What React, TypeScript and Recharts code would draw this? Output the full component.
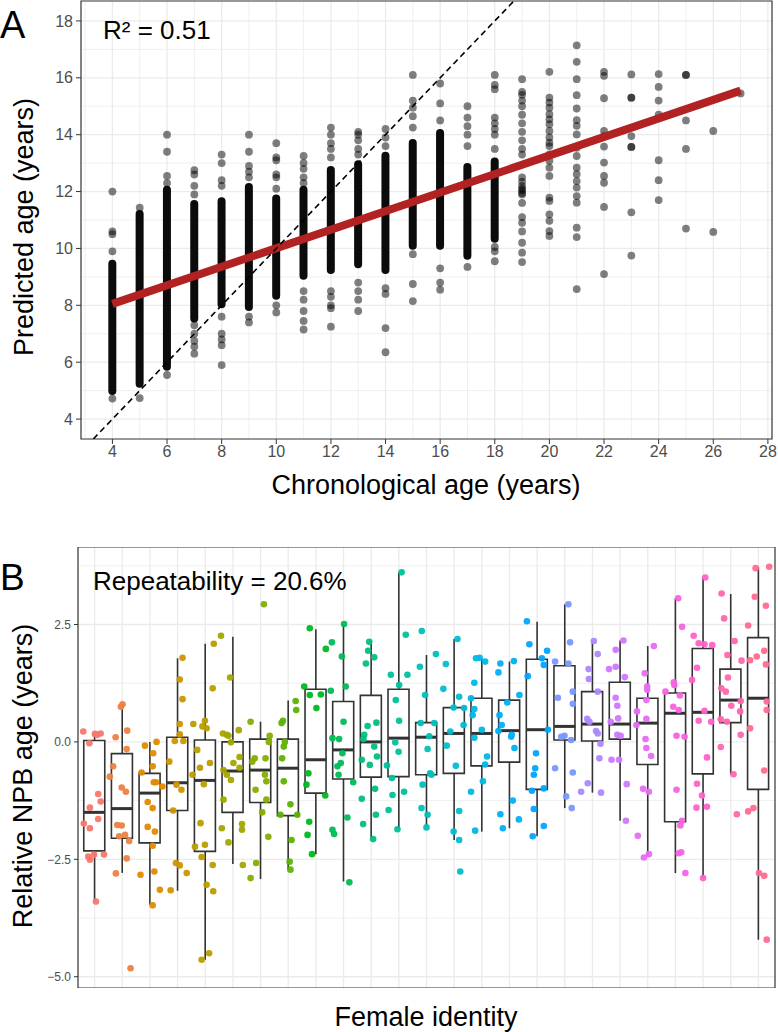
import React from "react";
import {
  ComposedChart, Bar, Scatter, XAxis, YAxis, CartesianGrid, ReferenceArea,
} from "recharts";

const FONT = '"Liberation Sans", Arial, Helvetica, sans-serif';
const GRID = "#EBEBEB";
const INK = "#333333";
const TICK_TEXT = "#4D4D4D";

// ---------- Panel A: predicted vs chronological age ----------
const AGES = [4, 5, 6, 7, 8, 9, 10, 11, 12, 13, 14, 15, 16, 17, 18, 19, 20, 21, 22, 23, 24, 25, 26, 27];

// solid stretch of overlapping samples in each age column (null = no dense stretch)
const CORE_LOW = [4.85, 5.1, 5.7, 7.4, 7.9, 7.8, 8.2, 8.9, 9.1, 9.3, 9.1, 9.95, 9.95, 9.6, 10.2, null, null, null, null, null, null, null, null, null];
const CORE_HIGH = [9.6, 11.35, 12.2, 11.7, 11.8, 12.3, 11.9, 12.2, 12.9, 13.1, 13.4, 13.85, 14.2, 13.0, 13.2, null, null, null, null, null, null, null, null, null];

// individual samples outside the dense stretch
const SPARSE: number[][] = [
  [12.0, 10.6, 10.5, 9.9, 4.72],
  [11.43, 4.74],
  [14.0, 13.4, 12.55, 12.3, 5.55],
  [12.75, 12.6, 12.2, 11.9, 7.3, 7.0, 6.75, 6.55, 6.3],
  [13.3, 13.0, 12.4, 12.2, 7.6, 7.0, 6.8, 6.6, 5.9],
  [14.0, 13.4, 12.9, 12.7, 12.5, 7.6, 7.4],
  [13.7, 13.2, 13.1, 12.6, 12.5, 12.1, 8.0, 7.75],
  [13.25, 13.0, 12.8, 12.5, 12.3, 8.5, 8.2, 7.8, 7.45, 7.15],
  [14.25, 14.0, 13.7, 13.5, 13.2, 8.5, 8.3, 8.0, 7.9, 7.25],
  [14.1, 14.0, 13.8, 13.5, 13.3, 8.8, 8.5, 8.2, 7.8],
  [14.2, 13.9, 13.6, 8.6, 8.4, 7.2, 6.35],
  [16.1, 15.2, 14.95, 14.65, 14.25, 9.8, 8.75, 8.15],
  [15.8, 15.1, 14.5, 9.3, 8.8, 8.55],
  [15.0, 14.6, 14.3, 14.0, 13.6, 9.35],
  [16.1, 15.75, 15.6, 14.6, 14.4, 14.2, 14.0, 13.5, 10.05, 9.9, 9.55],
  [15.95, 15.5, 15.4, 15.2, 15.0, 14.7, 14.4, 14.1, 13.8, 13.5, 13.3, 12.5, 12.35, 12.2, 12.1, 12.05, 11.95, 11.9, 11.6, 11.1, 10.9, 10.6, 10.2, 9.85, 9.52],
  [16.21, 15.3, 15.13, 14.95, 14.72, 14.54, 14.37, 14.13, 13.9, 13.72, 13.6, 13.31, 13.08, 12.84, 12.55, 11.79, 11.67, 11.2, 10.97, 10.61, 10.44],
  [17.14, 16.56, 15.95, 15.39, 14.92, 14.51, 14.31, 14.01, 13.54, 13.25, 12.84, 12.61, 12.37, 12.14, 11.84, 11.61, 10.73, 10.4, 8.57],
  [16.21, 16.07, 15.28, 14.13, 13.95, 13.58, 13.02, 12.55, 12.31, 11.46, 9.1],
  [16.12, 15.3, 15.3, 13.95, 13.57, 13.57, 11.27, 9.75],
  [16.13, 15.68, 15.2, 14.7, 13.1, 12.4, 11.7],
  [16.1, 16.1, 14.5, 13.5, 10.7],
  [14.13, 10.58],
  [15.45],
];

const FIT_AGE = [4, 27];
const FIT_PRED = [8.05, 15.55];
const IDENTITY = [3.3, 18.7];

const A_X_TICKS = [4, 6, 8, 10, 12, 14, 16, 18, 20, 22, 24, 26, 28];
const A_X_MINOR = [3, 5, 7, 9, 11, 13, 15, 17, 19, 21, 23, 25, 27];
const A_Y_TICKS = [4, 6, 8, 10, 12, 14, 16, 18];
const A_Y_MINOR = [5, 7, 9, 11, 13, 15, 17];

// ---------- Panel B: relative NPB age per female ----------
const WHISKER_LOW = [-3.40, -2.79, -3.47, -3.17, -4.64, -2.60, -2.92, -2.72, -2.39, -2.97, -2.06, -1.86, -1.80, -2.09, -1.91, -1.84, -2.01, -1.41, -1.08, -1.68, -2.44, -2.79, -2.89, -0.69, -4.21];
const Q1 = [-2.32, -2.05, -2.15, -1.46, -2.33, -1.50, -1.29, -1.57, -1.09, -0.79, -0.75, -0.74, -0.70, -0.67, -0.51, -0.43, -1.01, 0.04, 0.02, 0.06, -0.48, -1.70, -0.68, 0.41, -1.01];
const MEDIAN = [-1.50, -1.42, -1.09, -0.87, -0.82, -0.62, -0.60, -0.56, -0.38, -0.17, 0.0, 0.08, 0.10, 0.18, 0.18, 0.24, 0.26, 0.33, 0.38, 0.38, 0.40, 0.61, 0.63, 0.89, 0.93];
const Q3 = [0.03, -0.25, -0.67, 0.10, 0.04, 0.0, 0.06, 0.06, 1.12, 0.86, 0.99, 1.12, 0.41, 0.73, 0.93, 0.89, 1.76, 1.62, 1.07, 1.27, 0.93, 1.04, 1.99, 1.55, 2.22];
const WHISKER_HIGH = [0.18, 0.79, 0.0, 1.78, 2.09, 2.24, 0.43, 0.88, 2.40, 2.51, 2.16, 3.61, 1.85, 2.19, 1.78, 1.71, 2.56, 2.93, 2.13, 2.16, 2.04, 3.06, 3.50, 3.15, 3.72];

// [horizontal jitter, relative age] for each observation, one list per female
const NPB_POINTS: [number, number][][] = [
  [[-0.41, 0.22], [-0.19, -0.03], [0.01, 0.17], [0.10, 0.15], [0.22, 0.18], [0.13, -1.11], [0.22, -1.27], [-0.17, -1.40], [-0.39, -1.74], [-0.17, -1.84], [0.13, -1.64], [-0.23, -2.44], [-0.17, -2.51], [-0.02, -2.40], [0.34, -2.40], [0.05, -3.40]],
  [[0.01, 0.80], [-0.05, 0.75], [0.18, 0.24], [-0.24, 0.10], [0.16, -0.15], [-0.33, -0.52], [-0.45, -0.74], [-0.02, -0.97], [0.13, -1.06], [-0.18, -1.77], [-0.02, -1.78], [0.10, -1.98], [0.25, -2.11], [-0.11, -2.01], [0.16, -2.48], [-0.23, -2.80], [0.30, -4.82]],
  [[0.24, 0.0], [-0.18, -0.08], [0.12, -0.24], [0.10, -0.52], [-0.30, -0.65], [0.14, -0.86], [0.22, -0.86], [0.45, -0.95], [-0.08, -1.28], [0.10, -1.41], [-0.08, -1.81], [0.18, -1.91], [0.10, -2.21], [0.16, -2.76], [-0.34, -2.83], [0.36, -3.15], [0.10, -3.48]],
  [[0.18, 1.79], [0.08, 1.33], [0.18, 0.91], [0.08, 0.38], [0.08, 0.16], [0.21, 0.02], [-0.10, 0.02], [-0.30, -0.42], [-0.04, -0.91], [0.14, -1.02], [-0.16, -1.46], [-0.06, -2.58], [0.08, -2.63], [0.33, -2.79], [-0.25, -3.16]],
  [[0.31, 2.09], [0.27, 1.14], [-0.01, 0.45], [-0.10, 0.33], [0.05, 0.29], [-0.43, 0.38], [-0.29, -0.17], [0.17, -0.45], [-0.19, -0.55], [-0.46, -0.70], [-0.05, -0.90], [-0.17, -1.73], [-0.37, -2.23], [-0.01, -2.19], [-0.13, -2.45], [0.27, -2.62], [0.05, -3.04], [0.29, -3.18], [-0.13, -4.64], [0.14, -4.50]],
  [[-0.43, 2.26], [-0.10, 1.37], [-0.36, 0.18], [-0.22, 0.15], [0.21, 0.25], [-0.16, 0.13], [-0.07, -0.01], [0.24, -0.32], [0.02, -0.45], [-0.34, -0.60], [-0.22, -0.70], [-0.07, -0.81], [0.24, -0.55], [-0.34, -1.23], [-0.40, -1.84], [-0.16, -2.14], [0.33, -1.75], [0.33, -1.87], [0.36, -2.62]],
  [[-0.36, 0.43], [0.33, 0.13], [-0.21, -0.35], [-0.30, -0.42], [0.18, -0.35], [0.21, -0.84], [0.21, -1.23], [0.06, -1.50], [0.28, -2.02], [-0.16, -2.58], [-0.36, -2.90], [0.12, 2.93], [0.16, -0.70], [-0.18, -1.02], [0.30, 0.0]],
  [[0.27, 0.87], [0.29, 0.68], [-0.19, 0.45], [-0.24, 0.40], [-0.12, 0.0], [-0.16, -0.10], [-0.22, -0.35], [-0.16, -0.84], [0.08, -1.33], [-0.28, -1.55], [0.33, -1.55], [0.12, -2.09], [0.05, -2.55], [0.08, -2.72]],
  [[-0.22, 2.42], [0.36, 1.98], [-0.42, 1.18], [-0.22, 1.0], [0.18, 1.01], [0.02, 0.72], [-0.27, -0.67], [-0.34, -0.91], [0.34, -1.14], [-0.24, -1.70], [-0.30, -1.98], [-0.14, -2.39]],
  [[-0.42, 2.12], [-0.46, 1.09], [0.02, 2.51], [-0.06, 1.82], [0.08, 1.18], [0.0, 0.43], [-0.40, 0.08], [-0.16, 0.06], [-0.04, -0.24], [-0.10, -0.45], [-0.22, -0.52], [-0.18, -0.70], [0.35, -0.86], [0.14, -1.61], [-0.40, -1.87], [-0.34, -1.96], [0.21, -2.99]],
  [[-0.07, 2.13], [-0.11, 1.94], [0.11, 1.80], [-0.19, 1.67], [0.19, 0.41], [-0.13, 0.34], [-0.25, 0.15], [-0.28, 0.06], [0.11, -0.10], [0.21, -0.31], [-0.05, -0.49], [-0.34, -0.38], [0.14, -1.0], [-0.34, -1.21], [0.17, -1.55], [-0.29, -1.75], [0.07, -2.07]],
  [[0.10, 3.61], [0.25, 2.28], [-0.29, 1.43], [0.31, 1.43], [0.01, 1.21], [-0.11, 0.89], [0.01, 0.45], [-0.13, -0.01], [-0.01, -0.21], [-0.43, -0.50], [-0.25, -0.77], [-0.23, -1.13], [0.19, -1.06], [-0.37, -1.45], [-0.05, -1.86]],
  [[-0.17, 2.36], [0.34, 1.87], [-0.24, 1.60], [-0.05, 1.0], [-0.21, 0.40], [0.28, 0.40], [0.10, 0.12], [0.04, -0.15], [0.13, -0.67], [0.18, -0.70], [-0.14, -0.91], [-0.18, -1.41], [0.04, -1.55], [0.0, -1.82]],
  [[0.12, 2.19], [-0.30, 1.66], [-0.39, 1.13], [0.18, 0.96], [-0.02, 0.73], [0.36, 0.72], [-0.14, 0.22], [0.34, 0.36], [-0.27, -0.08], [0.06, -0.51], [0.18, -1.47], [-0.02, -1.91], [0.18, -2.09], [0.22, -2.76]],
  [[-0.21, 1.78], [-0.08, 1.79], [0.12, 1.71], [-0.27, 1.26], [-0.39, 0.93], [-0.27, 0.70], [-0.33, 0.57], [-0.27, 0.09], [0.0, 0.26], [0.19, -0.31], [0.12, -0.48], [0.04, -0.84], [-0.39, -1.06], [-0.24, -1.89]],
  [[-0.33, 1.67], [-0.40, 1.48], [0.16, 1.72], [0.36, 1.0], [-0.08, 0.84], [-0.36, 0.57], [-0.28, 0.36], [-0.40, 0.23], [0.06, 0.11], [0.08, 0.15], [0.18, -0.13], [0.12, -1.25], [-0.33, -1.54], [0.34, -1.65], [-0.24, -1.84]],
  [[-0.37, 2.57], [-0.28, 2.08], [0.17, 1.78], [0.36, 1.94], [-0.34, 1.40], [0.24, 1.64], [0.39, 0.26], [-0.04, -0.24], [-0.07, -0.56], [-0.12, -0.70], [-0.19, -1.04], [0.24, -0.99], [-0.12, -1.43], [0.24, -1.79], [-0.16, -2.01]],
  [[0.13, 2.93], [0.19, 2.12], [0.13, 1.67], [-0.35, 1.71], [-0.25, 0.94], [0.29, 1.07], [0.29, 0.81], [-0.01, 0.13], [-0.13, 0.11], [0.23, 0.04], [-0.35, -0.56], [0.29, -0.65], [0.05, -1.16], [0.25, -1.41]],
  [[0.05, 2.15], [0.19, 1.87], [-0.14, 1.55], [-0.13, 1.34], [0.19, 1.07], [-0.19, 0.49], [-0.11, 0.43], [0.13, 0.23], [0.19, 0.18], [0.29, -0.04], [0.25, -0.35], [-0.17, -0.88], [-0.41, -1.06], [0.31, -1.08]],
  [[0.12, 2.16], [-0.16, 1.96], [-0.40, 1.55], [-0.16, 1.60], [0.17, 1.38], [-0.16, 0.94], [-0.10, 0.77], [-0.07, 0.50], [-0.34, 0.43], [-0.10, 0.15], [0.02, 0.13], [-0.31, -0.38], [-0.04, -0.38], [0.24, -0.90], [0.21, -1.68]],
  [[0.22, 2.04], [-0.11, 1.46], [-0.02, 1.18], [-0.02, 1.11], [-0.05, 0.89], [-0.39, 0.65], [-0.05, 0.49], [-0.41, 0.36], [-0.08, 0.06], [-0.05, -0.13], [0.12, -0.30], [-0.17, -1.0], [0.04, -1.06], [-0.36, -2.0], [-0.14, -2.46], [0.04, -2.39]],
  [[0.10, 3.06], [0.24, 2.45], [-0.06, 1.27], [-0.04, 1.21], [-0.36, 1.07], [0.16, 0.99], [-0.08, 0.75], [0.12, 0.68], [0.33, 0.11], [0.04, 0.13], [0.04, -1.02], [0.24, -1.68], [0.18, -1.78], [0.12, -2.37], [0.21, -2.35], [0.36, -2.79]],
  [[0.08, 3.50], [-0.34, 2.26], [-0.16, 2.10], [0.05, 2.08], [0.33, 2.06], [-0.22, 1.58], [-0.40, 1.32], [-0.16, 0.45], [0.05, 0.66], [0.29, 0.43], [0.14, -0.33], [-0.22, -0.89], [-0.04, -1.14], [0.14, -1.38], [-0.24, -1.40], [0.0, -2.90]],
  [[-0.33, 3.16], [-0.24, 2.63], [0.14, 2.15], [-0.12, 1.85], [0.39, 1.73], [-0.34, 1.14], [-0.18, 1.07], [-0.10, 1.37], [0.02, 0.77], [-0.36, 0.48], [-0.14, 0.43], [0.36, 0.87], [0.34, 0.65], [0.36, 0.15], [-0.36, -0.11], [0.10, -0.69], [0.22, -1.54]],
  [[-0.10, 3.70], [0.39, 3.73], [-0.13, 3.09], [0.27, 2.90], [-0.37, 2.48], [-0.30, 1.74], [-0.06, 1.82], [0.21, 1.94], [0.27, 1.65], [0.30, 0.86], [0.30, 0.68], [-0.30, 0.29], [0.21, -0.61], [-0.37, -1.48], [-0.18, -1.41], [0.02, -2.79], [0.21, -2.85], [0.30, -4.21]],
];

const B_Y_TICKS = [-5, -2.5, 0, 2.5];
const B_Y_MINOR = [-3.75, -1.25, 1.25, 3.75];
const FEMALES = NPB_POINTS.map((_, i) => i);

// ggplot-style hue palette (polar Luv, l = 65, c = 100)
function hcl(h: number, c = 100, l = 65): string {
  const hr = (h * Math.PI) / 180;
  const u = c * Math.cos(hr);
  const v = c * Math.sin(hr);
  const Xn = 95.047, Yn = 100, Zn = 108.883;
  const un = (4 * Xn) / (Xn + 15 * Yn + 3 * Zn);
  const vn = (9 * Yn) / (Xn + 15 * Yn + 3 * Zn);
  const Y = Yn * Math.pow((l + 16) / 116, 3);
  const up = u / (13 * l) + un;
  const vp = v / (13 * l) + vn;
  const X = (Y * 9 * up) / (4 * vp);
  const Z = (Y * (12 - 3 * up - 20 * vp)) / (4 * vp);
  const x = X / 100, y = Y / 100, z = Z / 100;
  const lin = [
    3.240479 * x - 1.53715 * y - 0.498535 * z,
    -0.969256 * x + 1.875992 * y + 0.041556 * z,
    0.055648 * x - 0.204043 * y + 1.057311 * z,
  ];
  return "#" + lin.map((ch) => {
    const g = ch <= 0.0031308 ? 12.92 * ch : 1.055 * Math.pow(ch, 1 / 2.4) - 0.055;
    return Math.round(Math.min(1, Math.max(0, g)) * 255).toString(16).padStart(2, "0");
  }).join("");
}
const FEMALE_COLORS = FEMALES.map((i) => hcl(15 + (360 * i) / FEMALES.length));

const text = (style: React.CSSProperties): React.CSSProperties => ({
  position: "absolute", fontFamily: FONT, lineHeight: 1, whiteSpace: "nowrap", color: "#000", ...style,
});
const vertical = (cx: number, cy: number, size: number): React.CSSProperties =>
  text({ left: cx, top: cy, fontSize: size, transform: "translate(-50%, -50%) rotate(-90deg)" });

function AgePanel() {
  const cores = AGES
    .map((age, i) => ({ age, core: CORE_LOW[i] == null ? null : [CORE_LOW[i], CORE_HIGH[i]] }))
    .filter((r) => r.core);
  const samples = AGES.flatMap((age, i) => SPARSE[i].map((y) => ({ age, y })));
  const fit = FIT_AGE.map((age, i) => ({ age, y: FIT_PRED[i] }));
  const identity = IDENTITY.map((v) => ({ age: v, y: v }));

  return (
    <ComposedChart width={778} height={469} data={cores} margin={{ top: 1, right: 6, bottom: 0, left: 0 }}>
      <CartesianGrid stroke={GRID} strokeWidth={0.8} horizontalValues={A_Y_MINOR} verticalValues={A_X_MINOR} />
      <CartesianGrid stroke={GRID} strokeWidth={1.3} horizontalValues={A_Y_TICKS} verticalValues={A_X_TICKS} />
      <XAxis
        dataKey="age" type="number" domain={[2.85, 28.15]} ticks={A_X_TICKS} allowDataOverflow
        height={30} axisLine={false} tickSize={5} tickMargin={2}
        tickLine={{ stroke: INK }} tick={{ fontSize: 16, fill: TICK_TEXT, fontFamily: FONT }}
      />
      <YAxis
        type="number" domain={[3.3, 18.7]} ticks={A_Y_TICKS} allowDataOverflow
        width={81} axisLine={false} tickSize={5} tickMargin={3}
        tickLine={{ stroke: INK }} tick={{ fontSize: 16, fill: TICK_TEXT, fontFamily: FONT }}
      />
      <Bar dataKey="core" barSize={8} radius={4} fill="#0b0b0b" isAnimationActive={false} />
      <Scatter
        data={samples} dataKey="y" isAnimationActive={false}
        shape={(p: any) => <circle cx={p.cx} cy={p.cy} r={3.9} fill="#000" fillOpacity={0.5} />}
      />
      <Scatter
        data={fit} dataKey="y" isAnimationActive={false}
        line={{ stroke: "#B22222", strokeWidth: 8 }} shape={() => <g />}
      />
      <Scatter
        data={identity} dataKey="y" isAnimationActive={false}
        line={{ stroke: "#000", strokeWidth: 1.6, strokeDasharray: "6 4" }} shape={() => <g />}
      />
      <ReferenceArea x1={2.85} x2={28.15} y1={3.3} y2={18.7} fill="none" stroke={INK} strokeWidth={1.2} />
    </ComposedChart>
  );
}

function NpbPanel() {
  const boxes = FEMALES.map((i) => ({
    pos: i,
    whisker: [WHISKER_LOW[i], WHISKER_HIGH[i]],
    box: [Q1[i], Q3[i]],
    median: MEDIAN[i],
  }));
  const xTicks = FEMALES;
  const hiddenX = (id: string) => (
    <XAxis key={id} xAxisId={id} dataKey="pos" type="number" domain={[-0.6, 24.6]} ticks={xTicks} allowDataOverflow hide />
  );

  return (
    <ComposedChart width={778} height={441} data={boxes} margin={{ top: 0, right: 3, bottom: 0, left: 0 }}>
      <CartesianGrid stroke={GRID} strokeWidth={0.8} horizontalValues={B_Y_MINOR} vertical={false} />
      <CartesianGrid stroke={GRID} strokeWidth={1.3} horizontalValues={B_Y_TICKS} verticalValues={xTicks} />
      {hiddenX("0")}
      {hiddenX("whisker")}
      {hiddenX("box")}
      <YAxis
        type="number" domain={[-5.24, 4.15]} ticks={B_Y_TICKS} allowDataOverflow
        width={78} axisLine={false} tickSize={4} tickMargin={3}
        tickLine={{ stroke: INK }} tick={{ fontSize: 12, fill: TICK_TEXT, fontFamily: FONT }}
        tickFormatter={(v: number) => (v < 0 ? "\u2212" : "") + Math.abs(v).toFixed(1)}
      />
      <Bar xAxisId="whisker" dataKey="whisker" barSize={1.6} fill={INK} isAnimationActive={false} />
      <Bar xAxisId="box" dataKey="box" barSize={21} fill="#fff" stroke={INK} strokeWidth={1.6} isAnimationActive={false} />
      <Scatter
        data={boxes} dataKey="median" isAnimationActive={false}
        shape={(p: any) => <line x1={p.cx - 10.5} x2={p.cx + 10.5} y1={p.cy} y2={p.cy} stroke={INK} strokeWidth={3} />}
      />
      {FEMALES.map((i) => (
        <Scatter
          key={i}
          data={NPB_POINTS[i].map(([dx, y]) => ({ pos: i + dx, y }))}
          dataKey="y" isAnimationActive={false}
          shape={(p: any) => <circle cx={p.cx} cy={p.cy} r={3.3} fill={FEMALE_COLORS[i]} fillOpacity={0.95} />}
        />
      ))}
      <ReferenceArea x1={-0.6} x2={24.6} y1={-5.24} y2={4.15} fill="none" stroke={INK} strokeWidth={1.2} />
    </ComposedChart>
  );
}

export default function App() {
  return (
    <div style={{ position: "absolute", left: 0, top: 0, width: 778, height: 1032, background: "#fff", overflow: "hidden" }}>
      <div style={{ position: "absolute", left: 0, top: 0 }}>
        <AgePanel />
      </div>
      <div style={{ position: "absolute", left: 0, top: 547 }}>
        <NpbPanel />
      </div>

      <div style={text({ left: 0, top: 6, fontSize: 38 })}>A</div>
      <div style={text({ left: 103, top: 17, fontSize: 26 })}>R² = 0.51</div>
      <div style={vertical(24, 227, 27)}>Predicted age (years)</div>
      <div style={text({ left: 426, top: 472, fontSize: 27, transform: "translateX(-50%)" })}>Chronological age (years)</div>

      <div style={text({ left: 0, top: 559, fontSize: 37 })}>B</div>
      <div style={text({ left: 93, top: 568, fontSize: 26 })}>Repeatability = 20.6%</div>
      <div style={vertical(23, 776, 27)}>Relative NPB age (years)</div>
      <div style={text({ left: 426, top: 1004, fontSize: 27, transform: "translateX(-50%)" })}>Female identity</div>
    </div>
  );
}
